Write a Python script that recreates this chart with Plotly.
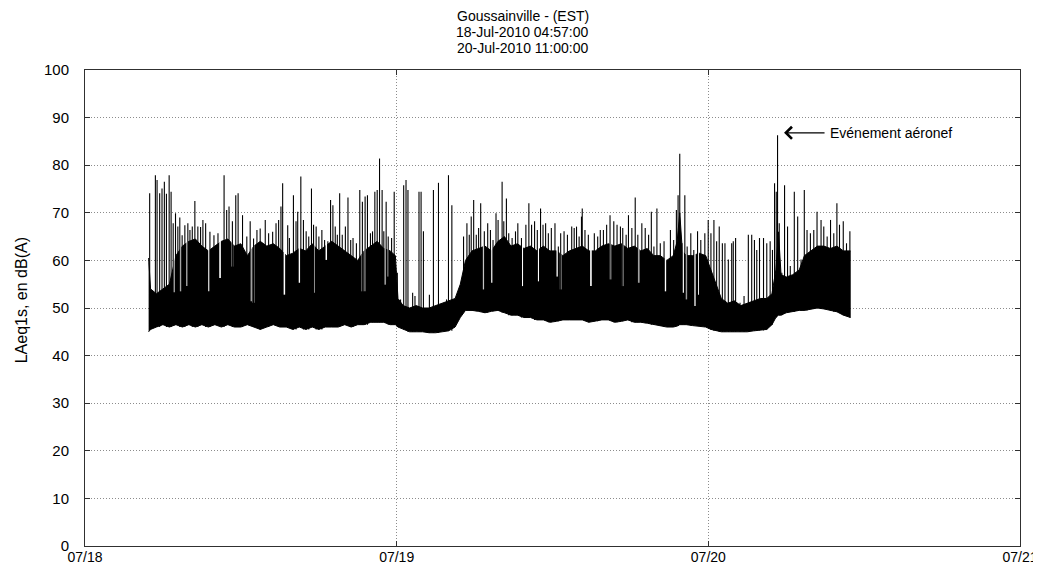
import numpy as np
import pandas as pd
import plotly.graph_objects as go

# ---------------- data (hours since 18-Jul-2010 00:00) ----------------
start_time = "2010-07-18 00:00:00"

body_hours = [4.90, 5.05, 5.50, 6.00, 6.50, 7.00, 7.50, 8.00, 8.50, 9.00, 9.50, 10.00,
              10.50, 11.00, 11.50, 12.00, 12.50, 13.00, 13.50, 14.00, 14.50, 15.00, 15.50,
              16.00, 16.50, 17.00, 17.50, 18.00, 18.50, 19.00, 19.50, 20.00, 20.50, 21.00,
              21.50, 22.00, 22.50, 23.00, 23.50, 23.90, 24.10, 24.50, 25.00, 25.50, 26.00,
              26.50, 27.00, 27.50, 28.00, 28.50, 28.90, 29.30, 29.80, 30.30, 30.80, 31.30,
              31.80, 32.30, 32.80, 33.30, 33.80, 34.30, 34.80, 35.30, 35.80, 36.30, 36.80,
              37.30, 37.80, 38.30, 38.80, 39.30, 39.80, 40.30, 40.80, 41.30, 41.80, 42.30,
              42.80, 43.30, 43.80, 44.30, 44.80, 45.30, 45.60, 45.80, 46.00, 46.30, 46.80,
              47.30, 47.80, 48.20, 48.60, 49.00, 49.50, 50.00, 50.50, 51.00, 51.50, 52.00,
              52.50, 52.90, 53.20, 53.40, 53.60, 54.00, 54.50, 55.00, 55.40, 55.90, 56.40,
              56.90, 57.40, 57.90, 58.40, 58.95]

body_floor = [45.0, 45.5, 46.0, 46.5, 46.0, 46.5, 46.0, 46.5, 46.0, 46.5, 46.0, 46.5,
              46.0, 46.5, 46.0, 46.0, 46.5, 46.0, 45.5, 46.0, 46.5, 46.0, 46.0,
              45.5, 46.0, 45.5, 46.0, 45.5, 46.0, 46.0, 46.0, 46.5, 46.0, 46.5,
              46.5, 47.0, 47.0, 47.0, 46.5, 46.5, 46.0, 45.5, 45.0, 45.0, 45.0,
              44.8, 44.8, 45.0, 45.2, 46.0, 48.0, 49.5, 49.5, 49.3, 49.0, 49.3,
              49.5, 49.0, 48.5, 48.5, 48.0, 48.0, 47.5, 47.5, 47.0, 47.2, 47.5,
              47.5, 47.5, 47.5, 47.0, 47.2, 47.5, 47.5, 47.0, 47.2, 47.5, 47.0,
              47.0, 46.8, 46.5, 46.2, 46.0, 46.0, 46.2, 46.5, 46.5, 46.5, 46.3,
              46.2, 46.0, 45.5, 45.2, 45.0, 45.0, 45.0, 45.0, 45.0, 45.2, 45.3,
              45.5, 46.5, 48.0, 48.5, 48.5, 49.0, 49.2, 49.5, 49.5, 49.8, 50.0,
              49.8, 49.5, 49.2, 48.5, 48.0]

body_top = [60.5, 54.0, 53.0, 54.0, 55.0, 61.0, 63.0, 64.0, 64.5, 63.0, 62.0, 63.0,
            64.0, 64.5, 63.0, 63.5, 61.0, 63.0, 64.0, 63.0, 63.5, 62.5, 61.0,
            61.5, 62.5, 62.0, 63.5, 62.0, 63.0, 64.0, 63.0, 62.0, 61.0, 60.0,
            62.0, 63.0, 64.0, 62.5, 62.0, 61.0, 52.0, 50.5, 50.0, 50.5, 50.0,
            50.0, 50.5, 51.0, 51.5, 52.0, 55.0, 60.0, 62.0, 62.5, 63.0, 62.0,
            64.0, 65.0, 63.0, 63.5, 62.5, 63.0, 62.0, 63.0, 62.0, 62.0, 61.0,
            62.0, 62.5, 63.0, 62.0, 62.0, 63.0, 63.5, 63.0, 63.5, 62.5, 63.0,
            62.0, 62.5, 61.0, 61.0, 60.0, 61.0, 64.0, 70.0, 62.0, 61.0, 61.0,
            61.5, 61.0, 58.0, 55.0, 52.0, 51.0, 51.5, 50.5, 51.0, 51.5, 52.0,
            52.0, 53.0, 58.0, 66.0, 57.0, 56.5, 57.0, 58.0, 61.0, 62.0, 63.0,
            63.0, 62.5, 63.0, 62.0, 62.0]

# narrow gaps that cut down into the dense band (time, lowest level of the gap)
notch_hours = [6.84, 7.35, 7.87, 9.55, 10.40, 11.35, 12.77, 12.98, 15.35, 16.51, 17.62,
               18.58, 21.36, 21.57, 23.12, 23.35, 30.70, 31.34, 33.67, 34.90, 36.37, 36.63,
               38.96, 40.46, 41.41, 42.63, 44.69, 46.06, 46.32, 46.96, 47.22]
notch_levels = [53.3, 53.5, 54.6, 53.5, 56.3, 58.7, 51.4, 51.1, 52.8, 55.3, 53.2,
                60.1, 53.5, 53.5, 54.9, 56.6, 53.9, 55.3, 54.6, 55.6, 56.6, 53.9,
                54.6, 56.0, 54.6, 55.3, 53.5, 53.2, 51.8, 50.4, 52.8]

spike_hours = [4.98, 5.42, 5.55, 5.75, 5.93, 6.11, 6.27, 6.48, 6.63, 6.79, 6.97, 7.15, 7.30,
               7.48, 7.69, 7.92, 8.08, 8.26, 8.46, 8.69, 8.90, 9.08, 9.29, 9.62, 9.93, 10.24,
               10.71, 10.91, 11.09, 11.35, 11.61, 11.79, 12.13, 12.46, 12.72, 12.98, 13.24,
               13.49, 13.88, 14.14, 14.45, 14.71, 14.91, 15.09, 15.22, 15.61,
               15.74, 16.05, 16.25, 16.38, 16.62, 16.82, 17.03, 17.23, 17.44, 17.60, 17.80,
               18.01, 18.24, 18.45, 18.70, 18.91, 19.09, 19.27, 19.43, 19.61, 19.81, 20.05,
               20.25, 20.46, 20.64, 20.90, 21.16, 21.36, 21.57, 21.75, 21.98, 22.14, 22.32,
               22.50, 22.68, 22.88, 23.01, 23.19, 23.35, 23.61, 23.81, 24.05, 24.30, 24.54,
               24.72, 24.87, 25.23, 25.41, 25.72, 25.88, 26.06, 26.52, 26.83,
               27.22, 27.84, 27.99, 28.25, 28.84, 29.15, 29.41, 29.59, 29.74, 29.93, 30.13,
               30.31, 30.47, 30.75, 31.01, 31.22, 31.42, 31.65, 31.81, 32.12, 32.25, 32.45,
               32.63, 32.89, 33.15, 33.33, 33.61, 33.95, 34.18, 34.39, 34.62, 34.83, 35.08,
               35.27, 35.47, 35.68, 35.91, 36.19, 36.45, 36.63, 36.89, 37.15, 37.48, 37.67,
               37.85, 38.05, 38.23,
               38.29, 38.50, 38.76, 39.22, 39.48, 39.68, 39.92, 40.17, 40.43, 40.72, 40.97,
               41.23, 41.41, 41.67, 41.85, 42.11, 42.37, 42.57, 42.88, 43.14, 43.40, 43.61,
               43.81, 44.04, 44.30, 44.59, 45.08, 45.33, 45.54, 45.67, 45.80, 45.98, 46.19,
               46.37, 46.65, 46.88, 47.17, 47.42, 47.73, 47.99, 48.20, 48.43, 48.64, 48.84,
               49.08,
               49.28, 49.54, 49.80, 49.92, 50.10, 50.44, 50.75, 51.08, 51.34, 51.55, 51.73,
               51.94, 52.25, 52.50, 52.76, 52.94, 53.10, 53.23, 53.33, 53.46, 53.66, 53.87,
               54.10, 54.31, 54.62, 54.88, 55.14, 55.39, 55.60, 55.86, 56.12, 56.37, 56.68,
               56.89, 57.15, 57.41, 57.66, 57.90, 58.10, 58.39, 58.64, 58.90]

spike_peaks = [74.1, 77.9, 76.9, 74.1, 75.1, 76.5, 74.0, 77.9, 74.4, 67.8, 69.9, 67.1, 69.0,
               65.3, 67.4, 67.8, 66.4, 67.1, 72.5, 67.1, 67.0, 68.5, 67.8, 66.0, 65.3, 65.7,
               77.9, 70.6, 71.3, 68.2, 73.7, 74.1, 69.5, 65.0, 68.2, 64.6, 66.4,
               66.7, 68.5, 65.7, 66.0, 67.8, 68.5, 71.3, 76.2, 67.4,
               64.7, 73.7, 68.2, 70.2, 77.6, 68.5, 66.1, 65.0, 75.1, 67.5, 67.1,
               65.0, 66.4, 64.3, 64.0, 72.7, 71.6, 67.1, 65.4, 74.1, 65.4, 67.1,
               73.2, 64.3, 64.7, 63.6, 74.8, 72.3, 73.4, 73.7, 65.7, 66.1, 74.4,
               74.8, 81.4, 74.8, 66.1, 72.3, 65.0, 64.7, 74.4, 57.4, 51.8, 75.8,
               76.9, 74.8, 53.2, 52.5, 74.4, 74.4, 66.1, 52.8, 74.8,
               76.3, 51.8, 77.9, 71.6, 53.9, 65.0, 67.8, 65.4, 69.2, 72.7, 65.4,
               66.8, 72.0, 66.1, 67.8, 66.4, 64.3, 69.9, 68.5, 76.5, 68.2, 73.0,
               65.7, 64.7, 66.1, 67.8, 64.7, 67.5, 72.0, 67.5, 68.2, 66.4, 70.9,
               67.5, 67.8, 65.7, 66.8, 67.8, 62.9, 65.7, 66.1, 65.4, 67.1, 66.8,
               67.1, 65.0, 69.2,
               70.9, 66.4, 65.4, 65.7, 65.0, 66.4, 66.4, 67.5, 69.5, 68.2, 67.5,
               67.1, 66.8, 65.4, 69.5, 66.8, 73.2, 65.4, 67.8, 66.8, 65.4, 70.2,
               62.9, 70.9, 63.6, 64.0, 66.4, 64.3, 70.6, 73.7, 82.4, 63.6, 73.7,
               62.9, 65.7, 62.2, 66.1, 64.3, 65.7, 68.5, 65.7, 68.5, 64.0, 67.1,
               63.6,
               63.6, 60.2, 63.6, 64.0, 64.7, 51.1, 52.5, 65.4, 65.4, 64.3, 62.2,
               64.7, 64.7, 63.6, 64.0, 62.2, 76.2, 74.4, 86.3, 67.8, 57.4, 75.8,
               67.1, 58.8, 74.4, 69.2, 60.2, 74.8, 66.4, 65.7, 66.4, 70.2, 68.5,
               67.1, 65.0, 68.5, 65.7, 72.0, 67.5, 68.2, 63.6, 66.1]

x_tick_labels = ["07/18", "07/19", "07/20", "07/21"]
y_tick_values = [0, 10, 20, 30, 40, 50, 60, 70, 80, 90, 100]

title_lines = ["Goussainville - (EST)", "18-Jul-2010 04:57:00", "20-Jul-2010 11:00:00"]
y_title = "LAeq1s, en dB(A)"
event_label = "Evénement aéronef"
event_hour = 53.33
event_level = 86.3

# ---------------- build ----------------
t0 = pd.Timestamp(start_time)


def to_time(hours):
    return t0 + pd.to_timedelta(np.asarray(hours, dtype=float), unit="h")


def nearest_index(hours):
    bh = np.asarray(body_hours)
    h = np.asarray(hours)
    return np.abs(h[:, None] - bh[None, :]).argmin(axis=1)


body_t = to_time(body_hours)

# spikes start from the floor of the band
spike_base = np.asarray(body_floor)[nearest_index(spike_hours)]
sx, sy = [], []
for t, b, p in zip(to_time(spike_hours), spike_base, spike_peaks):
    sx += [t, t, None]
    sy += [b, p, None]

# gaps run from above the band down to their level
notch_top = np.asarray(body_top)[nearest_index(notch_hours)] + 1.5
nx, ny = [], []
for t, top, lvl in zip(to_time(notch_hours), notch_top, notch_levels):
    nx += [t, t, None]
    ny += [top, lvl, None]

fig = go.Figure()
fig.add_trace(go.Scatter(x=body_t, y=body_floor, mode="lines",
                         line=dict(color="black", width=1), hoverinfo="skip", showlegend=False))
fig.add_trace(go.Scatter(x=body_t, y=body_top, mode="lines", fill="tonexty", fillcolor="black",
                         line=dict(color="black", width=1), hoverinfo="skip", showlegend=False))
fig.add_trace(go.Scatter(x=nx, y=ny, mode="lines", line=dict(color="white", width=1.6),
                         hoverinfo="skip", showlegend=False, connectgaps=False))
fig.add_trace(go.Scatter(x=sx, y=sy, mode="lines", line=dict(color="black", width=1.1),
                         hoverinfo="skip", showlegend=False, connectgaps=False))

day_ticks = [t0 + pd.Timedelta(days=i) for i in range(len(x_tick_labels))]

grid_style = dict(showgrid=True, gridcolor="#8c8c8c", griddash="1px,2px", gridwidth=1,
                  ticks="inside", ticklen=5, tickcolor="#303030", showline=True,
                  linecolor="#303030", linewidth=1, mirror="ticks", zeroline=False,
                  automargin=False)

# page body keeps an 8px margin, so the figure is placed to compensate
fig.update_layout(
    width=1033, height=556,
    margin=dict(l=77, r=21, t=62, b=18, autoexpand=False),
    paper_bgcolor="white", plot_bgcolor="white",
    showlegend=False,
    xaxis=dict(range=[day_ticks[0], day_ticks[-1]], tickvals=day_ticks, ticktext=x_tick_labels,
               ticklabelstandoff=-2,
               tickfont=dict(family="Liberation Sans, Arial, sans-serif", size=14, color="black"),
               **grid_style),
    yaxis=dict(range=[0, 100], tickvals=y_tick_values, ticklabelstandoff=12,
               tickfont=dict(family="Liberation Sans, Arial, sans-serif", size=15, color="black"),
               **grid_style),
)

annotations = []
title_y = [1.1134, 1.0798, 1.0462]
for line, ty in zip(title_lines, title_y):
    annotations.append(dict(text=line, xref="paper", yref="paper", x=0.468,
                            y=ty, xanchor="center", yanchor="middle",
                            showarrow=False,
                            font=dict(family="Liberation Sans, Arial, sans-serif", size=14,
                                      color="black")))
annotations.append(dict(text=y_title, xref="paper", yref="paper", x=-0.068, y=0.517,
                        textangle=-90, showarrow=False, xanchor="center", yanchor="middle",
                        font=dict(family="Liberation Sans Narrow, Liberation Sans, Arial", size=16,
                                  color="black")))
arrow_x = to_time([event_hour + 0.5])[0]
annotations.append(dict(x=arrow_x, y=event_level + 0.5, xref="x", yref="y",
                        ax=42, ay=0, text="", showarrow=True, arrowhead=4, arrowsize=1.8,
                        arrowwidth=1.3, arrowcolor="black"))
annotations.append(dict(x=arrow_x, y=event_level + 0.5, xref="x", yref="y",
                        xshift=44, text=event_label, showarrow=False, xanchor="left",
                        yanchor="middle",
                        font=dict(family="Liberation Sans Narrow, Liberation Sans, Arial", size=14,
                                  color="black")))
fig.update_layout(annotations=annotations)

fig.write_html("out.html")
